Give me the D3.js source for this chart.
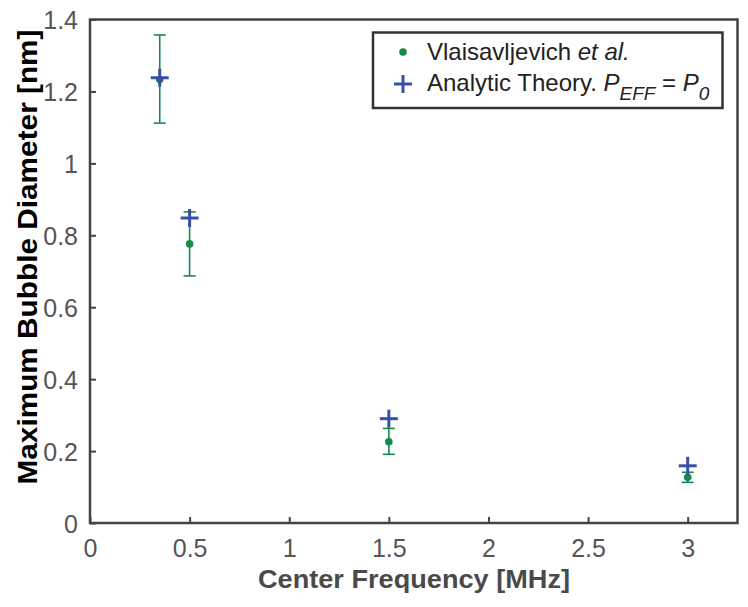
<!DOCTYPE html>
<html><head><meta charset="utf-8">
<script src="https://cdn.jsdelivr.net/npm/d3@7"></script>
<style>body{margin:0;background:#fff}svg text{font-family:"Liberation Sans",Arial,Helvetica,sans-serif}</style>
</head><body>
<svg id="c" width="748" height="607"></svg>
<script>
const freqExp = [0.35, 0.5, 1.5, 3];
const diamExp = [1.233, 0.776, 0.226, 0.127];
const errLow = [1.112, 0.687, 0.191, 0.113];
const errHigh = [1.357, 0.865, 0.263, 0.141];
const freqTheory = [0.35, 0.5, 1.5, 3];
const diamTheory = [1.238, 0.848, 0.290, 0.159];
const xTicks = [0, 0.5, 1, 1.5, 2, 2.5, 3];
const yTicks = [0, 0.2, 0.4, 0.6, 0.8, 1, 1.2, 1.4];

const green = "#17894a", blue = "#3550a5", axisCol = "#444";
const svg = d3.select("#c");
const L = 90, R = 737.5, T = 19.5, B = 523;
const x = d3.scaleLinear().domain([0, 3.25]).range([L, R]);
const y = d3.scaleLinear().domain([0, 1.4]).range([B, T]);

// axes
const xa = svg.append("g").attr("transform", `translate(0,${B})`)
  .call(d3.axisBottom(x).tickValues(xTicks).tickSize(-6).tickPadding(16).tickFormat(d3.format("")));
const ya = svg.append("g").attr("transform", `translate(${L},0)`)
  .call(d3.axisLeft(y).tickValues(yTicks).tickSize(-6).tickPadding(12).tickFormat(d3.format("")));
[xa, ya].forEach(g => {
  g.select(".domain").remove();
  g.selectAll(".tick line").attr("stroke", axisCol).attr("stroke-width", 2);
  g.selectAll(".tick text").attr("fill", "#555").style("font-size", "25px");
});
xa.selectAll(".tick text").attr("dy", "0.71em");
ya.selectAll(".tick text").attr("dy", "0.36em");
// box
svg.append("rect").attr("x", L).attr("y", T).attr("width", R - L).attr("height", B - T)
  .attr("fill", "none").attr("stroke", axisCol).attr("stroke-width", 2.5);

// error bars
const eb = svg.append("g").attr("stroke", green).attr("stroke-width", 1.6);
freqExp.forEach((f, i) => {
  const cx = x(f);
  eb.append("line").attr("x1", cx).attr("x2", cx).attr("y1", y(errLow[i])).attr("y2", y(errHigh[i]));
  [errLow[i], errHigh[i]].forEach(v => eb.append("line").attr("x1", cx - 6).attr("x2", cx + 6).attr("y1", y(v)).attr("y2", y(v)));
});
svg.append("g").selectAll("circle").data(freqExp).join("circle")
  .attr("cx", d => x(d)).attr("cy", (d, i) => y(diamExp[i])).attr("r", 3.8).attr("fill", green);
// theory plus markers
const pl = svg.append("g").attr("stroke", blue).attr("stroke-width", 3);
freqTheory.forEach((f, i) => {
  const cx = x(f), cy = y(diamTheory[i]), s = 9;
  pl.append("line").attr("x1", cx - s).attr("x2", cx + s).attr("y1", cy).attr("y2", cy);
  pl.append("line").attr("x1", cx).attr("x2", cx).attr("y1", cy - s).attr("y2", cy + s);
});

// axis labels
svg.append("text").attr("x", 414).attr("y", 588).attr("text-anchor", "middle")
  .attr("fill", "#4a4a4a").style("font-size", "26px").style("font-weight", "bold")
  .attr("textLength", 312).attr("lengthAdjust", "spacingAndGlyphs")
  .text("Center Frequency [MHz]");
svg.append("text").attr("transform", "translate(37,257) rotate(-90)").attr("text-anchor", "middle")
  .attr("fill", "#000").style("font-size", "27px").style("font-weight", "bold")
  .attr("textLength", 455).attr("lengthAdjust", "spacingAndGlyphs")
  .text("Maximum Bubble Diameter [nm]");

// legend
const lg = svg.append("g");
lg.append("rect").attr("x", 373).attr("y", 32.5).attr("width", 349.5).attr("height", 75.5)
  .attr("fill", "#fff").attr("stroke", "#333").attr("stroke-width", 2.5);
lg.append("circle").attr("cx", 403).attr("cy", 52).attr("r", 3.8).attr("fill", green);
lg.append("line").attr("x1", 394).attr("x2", 412).attr("y1", 84).attr("y2", 84).attr("stroke", blue).attr("stroke-width", 3);
lg.append("line").attr("x1", 403).attr("x2", 403).attr("y1", 75).attr("y2", 93).attr("stroke", blue).attr("stroke-width", 3);
const t1 = lg.append("text").attr("x", 427).attr("y", 60).style("font-size", "24px").attr("fill", "#222");
t1.append("tspan").text("Vlaisavljevich ");
t1.append("tspan").style("font-style", "italic").text("et al.");
const t2 = lg.append("text").attr("x", 427).attr("y", 91).style("font-size", "24px").attr("fill", "#222");
t2.append("tspan").text("Analytic Theory. ");
t2.append("tspan").style("font-style", "italic").text("P");
t2.append("tspan").style("font-style", "italic").style("font-size", "19px").attr("dy", 9).text("EFF");
t2.append("tspan").attr("dy", -9).text(" = ");
t2.append("tspan").style("font-style", "italic").text("P");
t2.append("tspan").style("font-style", "italic").style("font-size", "19px").attr("dy", 9).text("0");
</script>
</body></html>
